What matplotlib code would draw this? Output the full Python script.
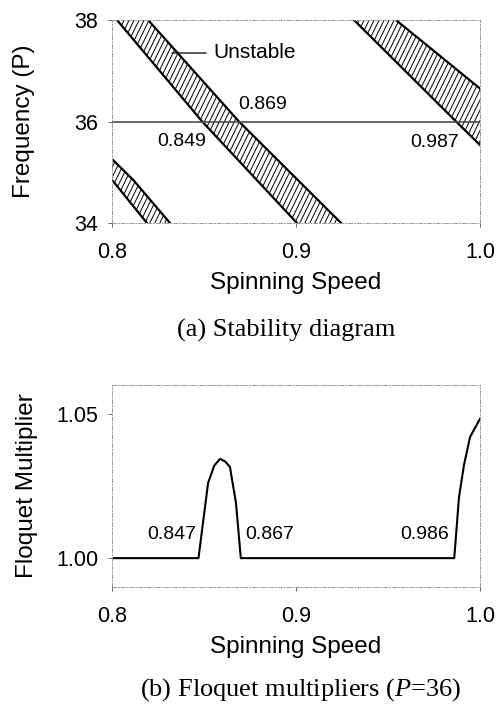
import numpy as np
import matplotlib
matplotlib.use("Agg")
import matplotlib.pyplot as plt
from matplotlib.collections import LineCollection

plt.rcParams['font.family'] = ['Liberation Sans', 'DejaVu Sans']
plt.rcParams['mathtext.fontset'] = 'custom'
plt.rcParams['mathtext.it'] = 'Liberation Serif:italic'
plt.rcParams['mathtext.rm'] = 'Liberation Serif'

# (a) stability diagram: unstable bands, speed of each boundary vs frequency P
band_P = [[38, 36, 34], [38, 36, 34], [35.26, 34.85, 34]]
band_lo = [[0.8027, 0.849, 0.9005], [0.9315, 0.987, 1.043], [0.7908, 0.800, 0.819]]
band_hi = [[0.8196, 0.869, 0.9245], [0.9543, 1.022, 1.090], [0.800, 0.8115, 0.8315]]
P_line = 36
top_labels = ['0.869', '0.849', '0.987']
top_label_pos = [(0.8685, 36.33), (0.8245, 35.60), (0.962, 35.58)]

# (b) Floquet multipliers at P=36
speed = [0.800, 0.847, 0.8522, 0.8555, 0.8587, 0.8615, 0.8641, 0.8674, 0.870,
         0.930, 0.986, 0.9886, 0.9913, 0.9946, 1.000]
mult = [1.000, 1.000, 1.026, 1.032, 1.0344, 1.0335, 1.0316, 1.019, 1.000,
        1.000, 1.000, 1.0212, 1.0323, 1.042, 1.0483]
bot_labels = ['0.847', '0.867', '0.986']
bot_label_pos = [(0.8193, 1.0052), (0.8723, 1.0052), (0.9565, 1.0052)]

fig = plt.figure(figsize=(5.01, 7.08), dpi=100)
ax1 = fig.add_axes([112/501, 1-223/708, 368/501, 203/708])
ax2 = fig.add_axes([112/501, 1-587/708, 368/501, 202/708])

for ax in (ax1, ax2):
    for sp in ax.spines.values():
        sp.set_color('0.6')
        sp.set_linestyle((0, (4, 2, 1, 2)))
        sp.set_linewidth(0.7)
    ax.tick_params(length=3, width=0.7, color='0.4', labelsize=15.5)
    ax.tick_params(axis='y', pad=7)
    ax.tick_params(axis='x', pad=11)
    ax.set_xlim(0.8, 1.0)
    ax.set_xticks([0.8, 0.9, 1.0])
    ax.set_xticklabels(['0.8', '0.9', '1.0'])
    ax.set_xlabel('Spinning Speed', fontsize=17.5, labelpad=6)

# hatch lines in axes coordinates, steep diagonal
offs = np.arange(-0.4, 1.05, 5/368)
segs = [[(o, 0), (o + 0.27, 1)] for o in offs]

for P, lo, hi in zip(band_P, band_lo, band_hi):
    poly = ax1.fill_betweenx(P, lo, hi, facecolor='white', edgecolor='none')
    lc = LineCollection(segs, colors='black', linewidths=0.7, transform=ax1.transAxes)
    ax1.add_collection(lc)
    lc.set_clip_path(poly.get_paths()[0], ax1.transData)
    ax1.plot(lo, P, color='black', lw=1.6)
    ax1.plot(hi, P, color='black', lw=1.6)

ax1.axhline(P_line, color='0.3', lw=1.2)
ax1.set_ylim(34, 38)
ax1.set_yticks([34, 36, 38])
ax1.set_ylabel('Frequency (P)', fontsize=17.5)
ax1.yaxis.set_label_coords(-0.21, 0.5)
for t, (x, y) in zip(top_labels, top_label_pos):
    ax1.text(x, y, t, fontsize=14, ha='left', va='center')
ax1.annotate('Unstable', xy=(0.8326, 37.35), xytext=(0.855, 37.35), fontsize=15,
             va='center', arrowprops=dict(arrowstyle='-', color='black', lw=0.9,
                                          shrinkA=3, shrinkB=0))

ax2.plot(speed, mult, color='black', lw=1.5)
ax2.set_ylim(0.99, 1.06)
ax2.set_yticks([1.00, 1.05])
ax2.set_yticklabels(['1.00', '1.05'])
ax2.set_ylabel('Floquet Multiplier', fontsize=17.5)
ax2.yaxis.set_label_coords(-0.20, 0.5)
for t, (x, y) in zip(bot_labels, bot_label_pos):
    ax2.text(x, y, t, fontsize=14, ha='left', va='bottom')

fig.text(286/501, 1-330/708, '(a) Stability diagram', family='Liberation Serif',
         fontsize=19, ha='center', va='center')
fig.text(301/501, 1-690/708, '(b) Floquet multipliers ($\\mathit{P}$=36)',
         family='Liberation Serif', fontsize=19, ha='center', va='center')

fig.savefig('out.png', dpi=100)
